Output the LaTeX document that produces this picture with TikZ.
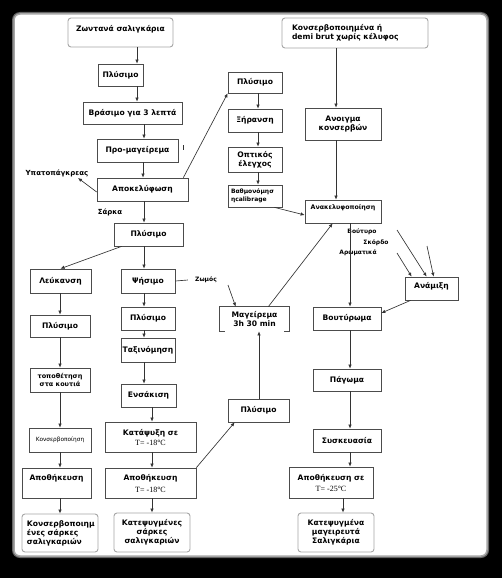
\documentclass[tikz,border=0pt]{standalone}
\usepackage{fontspec}
\setmainfont{DejaVu Sans}
\newfontfamily\serifT{Liberation Serif}
\usetikzlibrary{arrows.meta,calc}
\newcommand\tnt{\serifT\mdseries\fontsize{8}{9}\selectfont}
\tikzset{
  box/.style={draw=black!70, line width=0.7pt, inner sep=0pt, align=center,
    font=\fontsize{7.6}{9}\selectfont\bfseries},
  endbox/.style={box, draw=black!35, rounded corners=3pt, line width=0.9pt},
  arr/.style={draw=black!80, line width=0.65pt, -{Latex[length=4pt,width=3.5pt]}},
  plain/.style={draw=black!80, line width=0.65pt},
  lbl/.style={inner sep=0pt, font=\fontsize{6}{7}\selectfont\bfseries},
}
\newcommand\boxnode[7][]{\node[box,#1,minimum width={(#5-#3)*1pt},minimum height={(#6-#4)*1pt}] (#2) at ({(#3+#5)/2},{(#4+#6)/2}) {#7};}
\newcommand\varrow[3]{\draw[arr] (#1.south -| #3,0) -- (#2.north -| #3,0);}
\begin{document}
\begin{tikzpicture}[x=1pt,y=-1pt]
\useasboundingbox (0,0) rectangle (502,578);
\fill[black] (0,0) rectangle (502,578);
\fill[black!60, rounded corners=8pt] (12,12) rectangle (489,558);
\fill[white, draw=black!35, line width=1.5pt, rounded corners=6pt] (14,14) rectangle (487,556);

% left / main column
\boxnode[endbox]{z}{68}{18}{173}{47}{Ζωντανά σαλιγκάρια\\\mbox{}}
\boxnode{p1}{98}{64}{143}{86}{Πλύσιμο}
\boxnode{b}{83}{102}{182}{124}{Βράσιμο για 3 λεπτά}
\boxnode{pm}{97}{139}{178}{162}{Προ-μαγείρεμα}
\boxnode{ap}{97}{178}{188}{201}{Αποκελύφωση}
\boxnode{p2}{114}{223}{183}{246}{Πλύσιμο}
\boxnode{lk}{30}{269}{91}{293}{Λεύκανση}
\boxnode{ps}{121}{269}{175}{293}{Ψήσιμο}
\boxnode{p3}{30}{315}{90}{337}{Πλύσιμο}
\boxnode{p4}{121}{307}{175}{330}{Πλύσιμο}
\boxnode{tx}{121}{338}{175}{362}{Ταξινόμηση}
\boxnode[font=\fontsize{6.5}{8}\selectfont\bfseries]{tp}{30}{368}{90}{392}{τοποθέτηση\\στα κουτιά}
\boxnode{en}{121}{384}{176}{407}{Ενσάκιση}
\boxnode{kp}{105}{422}{196}{452}{Κατάψυξη σε\\[1pt]{\tnt T= -18°C}}
\boxnode{ap2}{105}{468}{196}{498}{Αποθήκευση\\[3pt]{\tnt T= -18°C}}
\boxnode[font=\fontsize{5.8}{7}\selectfont]{ks}{29}{428}{91}{452}{Κονσερβοποίηση}
\boxnode{ap1}{22}{468}{91}{498}{Αποθήκευση\\[2pt]\mbox{}}
\boxnode[endbox,align=left,inner xsep=5pt,text width=66pt]{ko}{22}{514}{98}{552}{Κονσερβοποιημ\\ένες σάρκες\\σαλιγκαριών}
\boxnode[endbox]{kf}{114}{513}{190}{552}{Κατεψυγμένες\\σάρκες\\σαλιγκαριών}

% middle column
\boxnode{p5}{228}{72}{282}{93}{Πλύσιμο}
\boxnode{xr}{228}{109}{282}{132}{Ξήρανση}
\boxnode{op}{228}{147}{282}{172}{Οπτικός\\έλεγχος}
\boxnode[align=left,inner xsep=3pt,text width=48pt,font=\fontsize{6}{8}\selectfont\bfseries]{bt}{228}{185}{282}{207}{Βαθμονόμησ\\ηcalibrage}
\boxnode[draw=none]{mg}{220}{307}{289}{331}{Μαγείρεμα\\3h 30 min}
\draw[box] ([xshift=5pt]mg.south west) -- (mg.south west) -- (mg.north west) -- (mg.north east) -- (mg.south east) -- ([xshift=-5pt]mg.south east);
\boxnode{p6}{228}{399}{289}{422}{Πλύσιμο}

% right column
\boxnode[endbox,align=left,inner xsep=10pt,text width=126pt]{kn}{282}{18}{428}{48}{Κονσερβοποιημένα ή\\demi brut χωρίς κέλυφος}
\boxnode{an}{305}{108}{381}{140}{Ανοιγμα\\κονσερβών}
\boxnode[font=\fontsize{6.3}{8}\selectfont\bfseries]{ak}{305}{200}{381}{223}{Ανακελυφοποίηση\\[2pt]\mbox{}}
\boxnode{am}{405}{277}{458}{300}{Ανάμιξη\\[-3pt]\mbox{}}
\boxnode{bu}{313}{307}{381}{330}{Βουτύρωμα}
\boxnode{pg}{313}{369}{381}{391}{Πάγωμα}
\boxnode{sk}{313}{429}{381}{452}{Συσκευασία}
\boxnode{ap3}{289}{467}{373}{498}{Αποθήκευση σε\\[2pt]{\tnt T= -25°C}}
\boxnode[endbox]{km}{298}{513}{374}{552}{Κατεψυγμένα\\μαγειρευτά\\Σαλιγκάρια}

% labels
\node[lbl,font=\fontsize{7}{8}\selectfont\bfseries] (upk) at (57,173) {Υπατοπάγκρεας};
\node[lbl,font=\fontsize{7}{8}\selectfont\bfseries] (sar) at (110,212) {Σάρκα};
\node[lbl] (zm) at (206,280) {Ζωμός};
\node[lbl] (vt) at (362,232) {Βούτυρο};
\node[lbl] (sko) at (376,243) {Σκόρδο};
\node[lbl] (arm) at (358,253) {Αρωματικά};

\coordinate (upkt) at (78,178);
\coordinate (zmo) at (228,285);
\coordinate (i1) at (397,230);
\coordinate (i2) at (427,246);
\coordinate (i3) at (397,253);

% main column arrows
\varrow{z}{p1}{137}
\varrow{p1}{b}{137}
\varrow{b}{pm}{144}
\varrow{pm}{ap}{143}
\varrow{ap}{p2}{144}
\draw[plain] (183,145) -- (183,150);
\draw[arr] ([yshift=-2.5pt]ap.west) -- (upkt);
\draw[arr] ([xshift=-5pt]ap.north east) -- (p5.south west);
\draw[arr] ([xshift=8pt]p2.south west) -- (lk.north);
\varrow{p2}{ps}{144}
\varrow{ps}{p4}{144}
\varrow{p4}{tx}{144}
\varrow{tx}{en}{144}
\varrow{en}{kp}{152}
\varrow{kp}{ap2}{152}
\varrow{ap2}{kf}{152}
\varrow{lk}{p3}{60}
\varrow{p3}{tp}{60}
\varrow{tp}{ks}{60}
\varrow{ks}{ap1}{60}
\varrow{ap1}{ko}{60}

% middle column arrows
\varrow{p5}{xr}{258}
\varrow{xr}{op}{258}
\varrow{op}{bt}{258}
\draw[arr] ([xshift=-8pt]bt.south east) -- ([yshift=-3.5pt]ak.west);
\draw[plain] (ps.east) -- ([xshift=-7pt]zm.west);
\draw[arr] (zmo) -- ([xshift=16pt]mg.north west);
\draw[arr] (ap2.north east) -- ([xshift=7pt]p6.south west);
\draw[arr] (p6.north -| 259,0) -- (mg.south -| 259,0);
\draw[arr] ([xshift=-21pt]mg.north east) -- ([xshift=28pt]ak.south west);

% right column arrows
\varrow{kn}{an}{336}
\varrow{an}{ak}{336}
\varrow{ak}{bu}{350}
\draw[arr] (i1) -- ([xshift=22pt]am.north west);
\draw[arr] (i2) -- ([xshift=29pt]am.north west);
\draw[arr] (i3) -- ([xshift=7pt]am.north west);
\draw[arr] ([xshift=6pt]am.south west) -- ([yshift=5.5pt]bu.east);
\varrow{bu}{pg}{350}
\varrow{pg}{sk}{350}
\varrow{sk}{ap3}{350}
\varrow{ap3}{km}{343}
\end{tikzpicture}
\end{document}
